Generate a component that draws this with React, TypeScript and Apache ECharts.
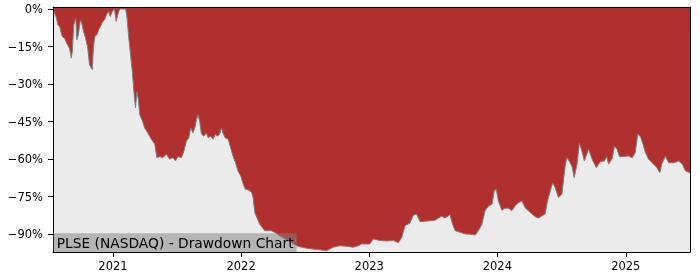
import React, { useEffect, useRef } from 'react';
import * as echarts from 'echarts';

const dates = [
  '2020-07-14','2020-07-24','2020-07-28','2020-08-02','2020-08-09','2020-08-16','2020-08-22','2020-08-30',
  '2020-09-04','2020-09-07','2020-09-11','2020-09-17','2020-09-20','2020-09-24','2020-09-30','2020-10-04',
  '2020-10-09','2020-10-15','2020-10-21','2020-10-26','2020-11-03','2020-11-06','2020-11-10','2020-11-16',
  '2020-11-21','2020-11-28','2020-12-03','2020-12-08','2020-12-13','2020-12-19','2020-12-24','2020-12-30',
  '2021-01-05','2021-01-10','2021-01-15','2021-01-20','2021-01-27','2021-02-06','2021-02-10','2021-02-15',
  '2021-02-19','2021-02-25','2021-03-03','2021-03-06','2021-03-10','2021-03-14','2021-03-18','2021-03-26',
  '2021-04-01','2021-04-10','2021-04-20','2021-04-30','2021-05-06','2021-05-14','2021-05-23','2021-06-02',
  '2021-06-11','2021-06-21','2021-06-28','2021-07-05','2021-07-15','2021-07-22','2021-07-29','2021-08-05',
  '2021-08-10','2021-08-17','2021-08-22','2021-08-27','2021-08-31','2021-09-05','2021-09-10','2021-09-17',
  '2021-09-24','2021-09-29','2021-10-06','2021-10-13','2021-10-20','2021-10-25','2021-11-01','2021-11-06',
  '2021-11-10','2021-11-17','2021-11-25','2021-12-02','2021-12-09','2021-12-16','2021-12-23','2021-12-31',
  '2022-01-07','2022-01-13','2022-01-23','2022-01-31','2022-02-04','2022-02-09','2022-02-17','2022-02-23',
  '2022-03-02','2022-03-09','2022-03-28','2022-04-10','2022-04-21','2022-05-14','2022-06-08','2022-06-22',
  '2022-07-16','2022-08-13','2022-09-01','2022-09-20','2022-10-09','2022-10-28','2022-11-16','2022-12-01',
  '2022-12-10','2023-01-03','2023-01-12','2023-02-01','2023-02-20','2023-03-11','2023-03-25','2023-04-04',
  '2023-04-13','2023-04-27','2023-05-07','2023-05-16','2023-05-26','2023-06-09','2023-06-23','2023-07-08',
  '2023-07-17','2023-07-27','2023-08-05','2023-08-19','2023-08-26','2023-09-03','2023-09-17','2023-10-01',
  '2023-10-15','2023-10-30','2023-11-08','2023-11-18','2023-11-27','2023-12-07','2023-12-17','2023-12-23',
  '2023-12-29','2024-01-04','2024-01-14','2024-01-23','2024-02-02','2024-02-11','2024-02-21','2024-03-01',
  '2024-03-11','2024-03-20','2024-04-04','2024-04-18','2024-04-28','2024-05-07','2024-05-16','2024-05-23',
  '2024-05-31','2024-06-07','2024-06-14','2024-06-23','2024-07-03','2024-07-12','2024-07-17','2024-07-25',
  '2024-08-01','2024-08-07','2024-08-15','2024-08-22','2024-08-29','2024-09-05','2024-09-17','2024-09-27',
  '2024-10-09','2024-10-20','2024-11-01','2024-11-08','2024-11-13','2024-11-23','2024-11-30','2024-12-07',
  '2024-12-14','2024-12-26','2025-01-09','2025-01-19','2025-01-28','2025-02-04','2025-02-12','2025-02-19',
  '2025-02-26','2025-03-07','2025-03-17','2025-03-31','2025-04-08','2025-04-14','2025-04-24','2025-05-03',
  '2025-05-17','2025-06-01','2025-06-11','2025-06-20','2025-07-03'
];

const drawdown = [
  0, -3.7, -6.4, -7, -11, -11.7, -13.7, -15.7,
  -19.6, -17, -6.4, -3.7, -12.3, -10.3, -4.4, -5.7,
  -9, -11.7, -15.6, -22.3, -24.3, -15.6, -11, -10.3,
  -8.4, -6.4, -5, -4.4, -2.4, -1, -3, -1,
  0, -5, -2, 0, 0, 0, -3.7, -11.7,
  -17, -25, -35.5, -39.5, -33, -36, -42.2, -44.8,
  -47.5, -49.5, -52, -54, -59.4, -59, -59.4, -58,
  -60, -59.4, -60.7, -59, -59.4, -56.8, -52.8, -51.5,
  -47.5, -49.5, -47.5, -44.2, -42.2, -45, -50, -50.8,
  -49.5, -51.5, -50.8, -52, -50, -50.8, -50, -47.5,
  -49.5, -51.5, -52, -55.4, -58.8, -61.4, -64.7, -66.7,
  -70, -72, -72.4, -73.3, -75.3, -81.3, -84, -86,
  -87.3, -88.6, -88.6, -89.5, -90.6, -92.5, -94.6, -95.2,
  -95.8, -96.2, -96.6, -95.2, -94.6, -94.8, -95.2, -94.6,
  -93.9, -93.9, -91.9, -92.5, -92.7, -92.5, -93.4, -91.2,
  -86.6, -85.5, -82.3, -82, -85, -84.8, -84.6, -84.4,
  -83.5, -82.8, -83.5, -82.2, -85.8, -88.6, -89.2, -89.9,
  -90, -90.3, -88.6, -86, -80.6, -78.7, -78, -72.7,
  -72, -76.7, -80.4, -79.6, -79.6, -80.6, -78.7, -77.4,
  -76.7, -79.4, -81.3, -83, -83.5, -82.6, -82, -76.7,
  -72.7, -69.4, -71.4, -75.3, -74, -63, -59.4, -61,
  -63, -67.4, -62, -53.5, -56.8, -60.7, -56, -60,
  -63.4, -61, -60.7, -59, -62, -59.8, -54.8, -56,
  -59, -59, -58.7, -59.5, -57.4, -50, -51, -54,
  -57.4, -60, -61.4, -63.4, -65.4, -61.7, -58.8, -61.4,
  -61.5, -60.7, -62, -64.7, -65.4
];

const yTicks = [0, -15, -30, -45, -60, -75, -90];
const yearTicks = [2021, 2022, 2023, 2024, 2025];
const titleText = 'PLSE (NASDAQ) - Drawdown Chart';

function ts(s: string): number {
  const [y, m, d] = s.split('-').map(Number);
  return Date.UTC(y, m - 1, d);
}

export default function App() {
  const ref = useRef<HTMLDivElement>(null);
  useEffect(() => {
    const chart = echarts.init(ref.current!, null, { renderer: 'svg' });
    const xMin = ts(dates[0]);
    const xMax = ts(dates[dates.length - 1]);
    const yearVals = yearTicks.map((y) => Date.UTC(y, 0, 1));
    const font = 'DejaVu Sans';
    const yMin = -97.1;
    const yMax = 0.8;
    const lineOnly = {
      axisLine: { show: true, onZero: false, lineStyle: { color: '#000', width: 1 } },
      axisTick: { show: false },
      axisLabel: { show: false },
      splitLine: { show: false },
    };
    chart.setOption({
      animation: false,
      grid: {
        left: 53, right: 10, top: 7, bottom: 28,
        show: true, backgroundColor: '#EBEBEB', borderWidth: 0,
      },
      xAxis: [
        {
          type: 'value', min: xMin, max: xMax, position: 'bottom', z: 10,
          axisLine: { show: true, onZero: false, lineStyle: { color: '#000', width: 1 } },
          axisTick: { show: true, customValues: yearVals, length: 5, lineStyle: { color: '#000', width: 1 } },
          axisLabel: {
            customValues: yearVals,
            formatter: (v: number) => String(new Date(v).getUTCFullYear()),
            margin: 8, color: '#000', fontFamily: font, fontSize: 11.5,
          },
          splitLine: { show: false },
        },
        { type: 'value', min: xMin, max: xMax, position: 'top', z: 10, ...lineOnly },
      ],
      yAxis: [
        {
          type: 'value', min: yMin, max: yMax, position: 'left', z: 10,
          axisLine: { show: true, onZero: false, lineStyle: { color: '#000', width: 1 } },
          axisTick: { show: true, customValues: yTicks, length: 5, lineStyle: { color: '#000', width: 1 } },
          axisLabel: {
            customValues: yTicks,
            formatter: (v: number) => (v === 0 ? '0%' : '\u2212' + Math.abs(v) + '%'),
            margin: 10, color: '#000', fontFamily: font, fontSize: 11.5,
          },
          splitLine: { show: false },
        },
        { type: 'value', min: yMin, max: yMax, position: 'right', z: 10, ...lineOnly },
      ],
      series: [
        {
          type: 'line',
          data: dates.map((d, i) => [ts(d), drawdown[i]]),
          symbol: 'none',
          lineStyle: { color: '#7f7f7f', width: 1 },
          areaStyle: { color: '#B03030', opacity: 1, origin: 'end' },
          z: 2,
        },
      ],
      graphic: [
        {
          type: 'rect', z: 50,
          shape: { x: 53.5, y: 233.3, width: 243.2, height: 18.7 },
          style: { fill: 'rgba(128,128,128,0.5)' },
        },
        {
          type: 'text', z: 51, x: 56.7, y: 242.6,
          style: {
            text: titleText, fill: '#000', font: '13.8px "DejaVu Sans"',
            textAlign: 'left', verticalAlign: 'middle',
          },
        },
      ],
    });
    return () => chart.dispose();
  }, []);
  return <div ref={ref} style={{ position: 'fixed', left: 0, top: 0, width: 700, height: 280 }} />;
}
